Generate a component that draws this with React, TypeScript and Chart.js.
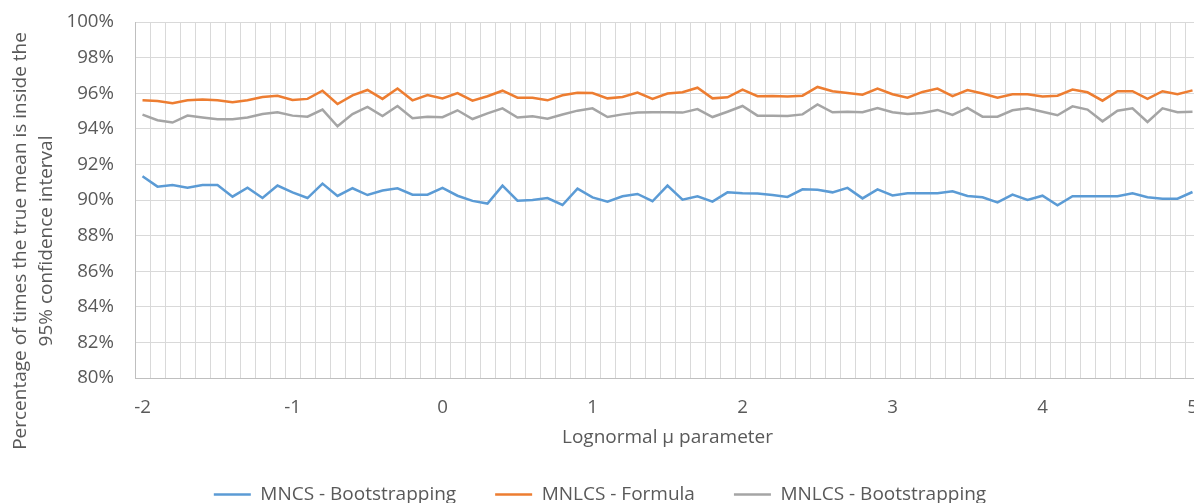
import React, { useEffect, useRef } from "react";
import { Chart, registerables } from "chart.js";

Chart.register(...registerables);

const muValues = [
  "-2", "-1.9", "-1.8", "-1.7", "-1.6", "-1.5", "-1.4", "-1.3", "-1.2", "-1.1",
  "-1", "-0.9", "-0.8", "-0.7", "-0.6", "-0.5", "-0.4", "-0.3", "-0.2", "-0.1",
  "0", "0.1", "0.2", "0.3", "0.4", "0.5", "0.6", "0.7", "0.8", "0.9",
  "1", "1.1", "1.2", "1.3", "1.4", "1.5", "1.6", "1.7", "1.8", "1.9",
  "2", "2.1", "2.2", "2.3", "2.4", "2.5", "2.6", "2.7", "2.8", "2.9",
  "3", "3.1", "3.2", "3.3", "3.4", "3.5", "3.6", "3.7", "3.8", "3.9",
  "4", "4.1", "4.2", "4.3", "4.4", "4.5", "4.6", "4.7", "4.8", "4.9",
  "5",
];

const xTickLabels = ["-2", "-1", "0", "1", "2", "3", "4", "5"];

const mncsBootstrapping = [
  91.33, 90.75, 90.84, 90.69, 90.84, 90.84, 90.19, 90.69, 90.11, 90.81,
  90.43, 90.11, 90.92, 90.23, 90.66, 90.28, 90.53, 90.66, 90.30, 90.30,
  90.68, 90.24, 89.95, 89.80, 90.81, 89.96, 90.00, 90.11, 89.72, 90.64,
  90.15, 89.91, 90.21, 90.34, 89.93, 90.81, 90.02, 90.21, 89.91, 90.43,
  90.38, 90.36, 90.28, 90.17, 90.60, 90.58, 90.43, 90.68, 90.09, 90.60,
  90.26, 90.38, 90.38, 90.38, 90.49, 90.23, 90.15, 89.87, 90.30, 90.00,
  90.24, 89.70, 90.21, 90.21, 90.21, 90.21, 90.38, 90.15, 90.07, 90.07,
  90.45,
];

const mnlcsFormula = [
  95.60, 95.56, 95.43, 95.60, 95.64, 95.60, 95.49, 95.60, 95.79, 95.86,
  95.62, 95.68, 96.14, 95.39, 95.88, 96.18, 95.68, 96.26, 95.60, 95.90,
  95.71, 96.01, 95.58, 95.83, 96.14, 95.75, 95.75, 95.60, 95.88, 96.03,
  96.01, 95.71, 95.79, 96.03, 95.68, 95.98, 96.05, 96.31, 95.71, 95.77,
  96.20, 95.83, 95.84, 95.81, 95.86, 96.35, 96.11, 96.01, 95.92, 96.26,
  95.94, 95.75, 96.07, 96.26, 95.84, 96.18, 95.98, 95.75, 95.94, 95.94,
  95.81, 95.86, 96.20, 96.05, 95.58, 96.11, 96.11, 95.68, 96.11, 95.94,
  96.16,
];

const mnlcsBootstrapping = [
  94.80, 94.48, 94.35, 94.74, 94.63, 94.53, 94.53, 94.63, 94.83, 94.93,
  94.74, 94.68, 95.08, 94.14, 94.83, 95.23, 94.72, 95.28, 94.59, 94.68,
  94.65, 95.04, 94.55, 94.87, 95.15, 94.63, 94.70, 94.57, 94.80, 95.02,
  95.15, 94.66, 94.81, 94.91, 94.93, 94.93, 94.91, 95.11, 94.66, 94.96,
  95.28, 94.74, 94.74, 94.72, 94.81, 95.37, 94.93, 94.96, 94.93, 95.17,
  94.93, 94.83, 94.89, 95.06, 94.78, 95.17, 94.68, 94.68, 95.04, 95.15,
  94.96, 94.76, 95.26, 95.08, 94.42, 95.02, 95.15, 94.38, 95.15, 94.93,
  94.96,
];

const seriesNames = ["MNCS - Bootstrapping", "MNLCS - Formula", "MNLCS - Bootstrapping"];
const seriesColors = ["#5B9BD5", "#ED7D31", "#A5A5A5"];

const yTitleLines = ["Percentage of times the true mean is inside the", "95% confidence interval"];
const xTitle = "Lognormal μ parameter";

const FONT = "'Open Sans', 'Noto Sans', sans-serif";
const TEXT_COLOR = "#595959";

const yTitlePlugin = {
  id: "yTitlePlugin",
  afterDraw(chart: any) {
    const ctx = chart.ctx;
    ctx.save();
    ctx.font = `19px ${FONT}`;
    ctx.fillStyle = TEXT_COLOR;
    ctx.textAlign = "center";
    ctx.textBaseline = "middle";
    const cy = 241;
    const xs = [21, 47];
    yTitleLines.forEach((line, i) => {
      ctx.save();
      ctx.translate(xs[i], cy);
      ctx.rotate(-Math.PI / 2);
      ctx.fillText(line, 0, 0);
      ctx.restore();
    });
    ctx.restore();
  },
};

export default function App() {
  const canvasRef = useRef<HTMLCanvasElement | null>(null);

  useEffect(() => {
    if (!canvasRef.current) return;
    const allSeries = [mncsBootstrapping, mnlcsFormula, mnlcsBootstrapping];
    const chart = new Chart(canvasRef.current, {
      type: "line",
      data: {
        labels: muValues,
        datasets: allSeries.map((values, i) => ({
          label: seriesNames[i],
          data: values,
          borderColor: seriesColors[i],
          backgroundColor: seriesColors[i],
          borderWidth: 2.5,
          pointRadius: 0,
          pointHoverRadius: 0,
          pointStyle: "line",
          tension: 0,
          fill: false,
        })),
      },
      options: {
        responsive: false,
        animation: false,
        devicePixelRatio: 1,
        layout: { padding: { top: 22, left: 0, right: 0, bottom: 0 } },
        plugins: {
          tooltip: { enabled: false },
          legend: {
            display: true,
            position: "bottom",
            labels: {
              usePointStyle: true,
              pointStyleWidth: 37,
              boxHeight: 18,
              padding: 39,
              color: TEXT_COLOR,
              font: { family: FONT, size: 19 },
            },
          },
        },
        scales: {
          x: {
            type: "category",
            offset: true,
            grid: {
              display: true,
              offset: true,
              color: "#D9D9D9",
              lineWidth: 1,
              drawTicks: true,
              tickLength: 18,
              tickColor: "rgba(0,0,0,0)",
            },
            border: { display: true, color: "#BFBFBF", width: 1 },
            ticks: {
              autoSkip: false,
              maxRotation: 0,
              minRotation: 0,
              padding: 0,
              color: TEXT_COLOR,
              font: { family: FONT, size: 18.7 },
              callback: (_v: any, index: number) =>
                index % 10 === 0 ? xTickLabels[index / 10] : "",
            },
            title: {
              display: true,
              text: xTitle,
              color: TEXT_COLOR,
              font: { family: FONT, size: 19 },
              padding: { top: 0, bottom: -3 },
            },
            afterFit: (scale: any) => {
              scale.height = 68;
            },
          },
          y: {
            min: 80,
            max: 100,
            grid: {
              color: "#D9D9D9",
              lineWidth: 1,
              drawTicks: true,
              tickLength: 21,
              tickColor: "rgba(0,0,0,0)",
            },
            border: { display: true, color: "#BFBFBF", width: 1 },
            ticks: {
              stepSize: 2,
              padding: 0,
              color: TEXT_COLOR,
              font: { family: FONT, size: 18.7 },
              callback: (v: any) => `${v}%`,
            },
            afterFit: (scale: any) => {
              scale.width = 135;
            },
          },
        },
      },
      plugins: [yTitlePlugin],
    } as any);
    return () => chart.destroy();
  }, []);

  return (
    <div
      style={{
        position: "absolute",
        left: 0,
        top: 0,
        width: 1194,
        height: 503,
        overflow: "hidden",
        background: "#ffffff",
      }}
    >
      <canvas ref={canvasRef} width={1200} height={514} style={{ display: "block" }} />
    </div>
  );
}
